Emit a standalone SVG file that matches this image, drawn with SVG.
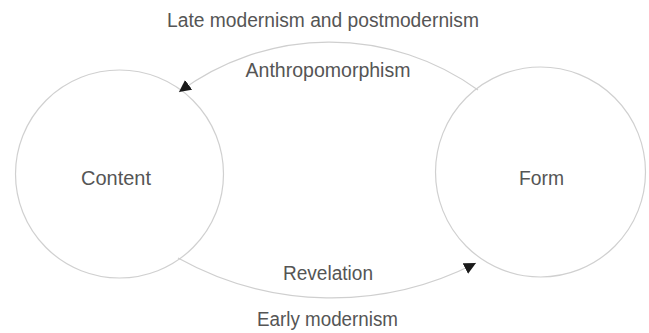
<svg xmlns="http://www.w3.org/2000/svg" width="649" height="333" viewBox="0 0 649 333">
<style>
.node{fill:#fff;stroke:#d0d0d0;stroke-width:1.2}
.edge{fill:none;stroke:#cfcfcf;stroke-width:1.2}
text{font-family:"Liberation Sans Narrow","Liberation Sans",Arial,sans-serif;fill:#555;font-size:19.5px;text-anchor:middle}
</style>
<defs>
<marker id="ah" viewBox="0 0 10 10" refX="10" refY="5" markerWidth="12" markerHeight="12" markerUnits="userSpaceOnUse" orient="auto">
<path d="M0,0 L10,5 L0,10 Z" fill="#1a1a1a"/>
</marker>
</defs>
<rect width="649" height="333" fill="#fff"/>
<g id="content">
<circle class="node" cx="119.5" cy="174" r="104"/>
<text x="116" y="185" textLength="70" lengthAdjust="spacingAndGlyphs">Content</text>
</g>
<g id="form">
<circle class="node" cx="540.5" cy="172" r="105"/>
<text x="541.5" y="185" textLength="45" lengthAdjust="spacingAndGlyphs">Form</text>
</g>
<g id="connectors">
<path class="edge" d="M478,90 A253,253 0 0 0 179,92" marker-end="url(#ah)"/>
<path class="edge" d="M178,258 A316,316 0 0 0 476,263" marker-end="url(#ah)"/>
</g>
<g id="labels">
<text x="323" y="27" textLength="312" lengthAdjust="spacingAndGlyphs">Late modernism and postmodernism</text>
<text x="328" y="77" textLength="165" lengthAdjust="spacingAndGlyphs">Anthropomorphism</text>
<text x="328" y="280" textLength="90" lengthAdjust="spacingAndGlyphs">Revelation</text>
<text x="327.5" y="326" textLength="141" lengthAdjust="spacingAndGlyphs">Early modernism</text>
</g>
</svg>
